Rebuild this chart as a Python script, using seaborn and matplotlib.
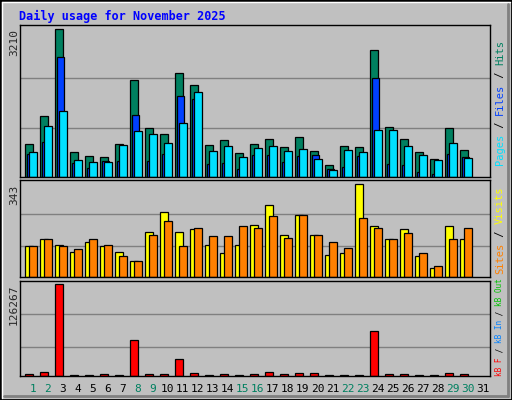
import matplotlib
matplotlib.use("Agg")
import matplotlib.pyplot as plt
import seaborn as sns
import numpy as np

days = list(range(1, 31))
hits = [727,1319,3210,536,452,430,727,2102,1065,938,2250,1997,705,811,515,727,832,642,875,557,261,663,642,2758,1086,832,536,388,1065,578]
files = [494,769,2610,303,198,346,346,1340,346,494,1764,1700,282,303,176,473,473,325,452,473,176,219,452,2145,282,261,113,71,494,430]
pages = [536,1108,1425,367,325,325,684,1002,938,748,1171,1848,557,663,430,621,663,557,600,388,155,578,536,1023,1023,663,473,367,748,409]
visits = [113,142,120,94,131,116,94,61,168,239,165,176,120,90,120,191,265,157,231,157,83,90,343,187,142,176,76,35,187,142]
sites = [116,142,116,102,139,120,76,61,157,209,113,183,150,150,187,183,224,146,231,154,128,109,220,180,142,161,87,42,139,180]
kbytes = [3226,5990,126267,1843,1843,3226,1843,50227,3226,3226,23960,4608,1843,3226,1843,3226,5990,3226,4608,4608,1843,1843,1843,62669,3226,3226,1843,1843,4608,3226]
weekend = [1,2,8,9,15,16,22,23,29,30]

sns.set_style("white")
BG = "#c0c0c0"
W, H = 512, 400
fig = plt.figure(figsize=(W/100, H/100), dpi=100, facecolor=BG)

def add_ax(top, bottom):
    ax = fig.add_axes([20/W, 1-bottom/H, 470/W, (bottom-top)/H])
    ax.set_facecolor(BG)
    for s in ax.spines.values():
        s.set_color("black"); s.set_linewidth(1)
    return ax

def bars(ax, vals, off, color, width=0.49):
    x = np.array(days) + off
    ax.bar(x, vals, width=width, align="edge", color=color,
           edgecolor="black", linewidth=0.9, zorder=2)

def finish(ax, top, grids):
    for g in grids:
        ax.axhline(g, color="#808080", lw=1, zorder=0)
    ax.set_xlim(0.153, 31.49)
    ax.set_ylim(0, top)
    ax.set_xticks([]); ax.set_yticks([])

ax1 = add_ax(25, 177)
bars(ax1, hits, -0.49, "#008060")
bars(ax1, files, -0.36, "#0040ff", width=0.45)
bars(ax1, pages, -0.22, "#00e0ff")
finish(ax1, 3300, [1070, 2140])

ax2 = add_ax(180, 277)
bars(ax2, visits, -0.49, "#ffff00")
bars(ax2, sites, -0.22, "#ff8000")
finish(ax2, 359, [113, 235])

ax3 = add_ax(281, 376)
bars(ax3, kbytes, -0.49, "#ff0000")
finish(ax3, 130870, [40550, 85250])

mono = "DejaVu Sans Mono"
fig.text(19/W, 1-16/H, "Daily usage for November 2025", color="#0000ff",
         fontsize=8.5, fontweight="bold", family=mono, va="center")
for y, lab in [(42, "3210"), (195, "343"), (305, "126267")]:
    fig.text(14/W, 1-y/H, lab, rotation=90, fontsize=8, family=mono, ha="center", va="center")

for d in days + [31]:
    fig.text((32.7+15*(d-1))/W, 1-389/H, str(d), fontsize=8, family=mono,
             ha="center", va="center", color="#008060" if d in weekend else "black")

def vlabel(y_bottom, parts, fs):
    y = y_bottom
    for txt, col in parts:
        fig.text(500/W, 1-y/H, txt, rotation=90, fontsize=fs, family=mono,
                 color=col, ha="center", va="bottom")
        y -= len(txt) * 0.6 * fs * 100/72

vlabel(165, [("Pages", "#00e0ff"), (" / ", "#000000"), ("Files", "#0040ff"), (" / ", "#000000"), ("Hits", "#008060")], 7.5)
vlabel(274, [("Sites", "#ff8000"), (" / ", "#000000"), ("Visits", "#ffff00")], 7.5)
vlabel(376, [("kB F", "#ff0000"), (" / ", "#000000"), ("kB In", "#0080ff"), (" / ", "#000000"), ("kB Out", "#00c000")], 5.6)

fig.add_artist(plt.Rectangle((0, 0), 1, 1, transform=fig.transFigure, fill=False, edgecolor="black", lw=2))
fig.add_artist(plt.Line2D([2/W, 2/W], [2/H, 1-2/H], color="white", lw=1))
fig.add_artist(plt.Line2D([2/W, 1-2/W], [1-2/H, 1-2/H], color="white", lw=1))
fig.add_artist(plt.Line2D([1-4/W, 1-4/W], [4/H, 1-4/H], color="#808080", lw=2))
fig.add_artist(plt.Line2D([4/W, 1-4/W], [4/H, 4/H], color="#808080", lw=2))

fig.savefig("out.png", dpi=100, facecolor=BG)
